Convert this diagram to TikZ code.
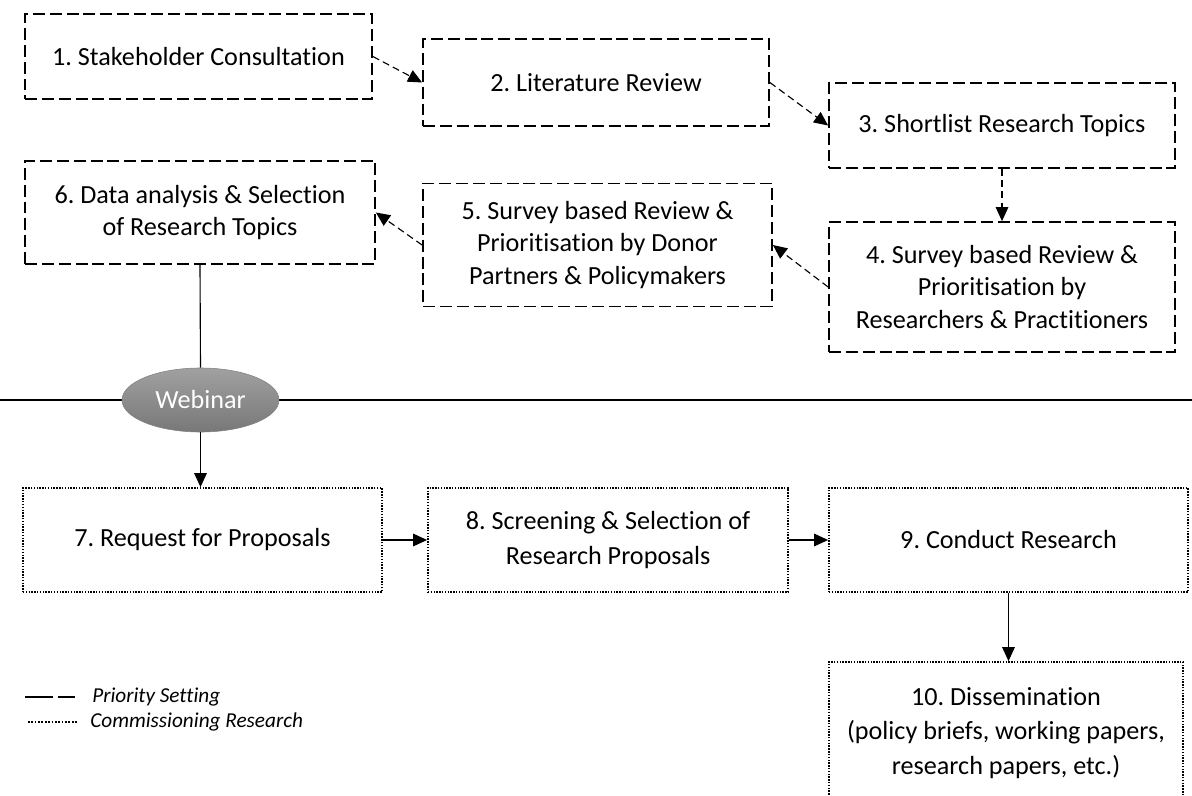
\documentclass[tikz,border=0pt]{standalone}
\usepackage{fontspec}
\setmainfont[Ligatures=NoCommon]{Carlito}
\usetikzlibrary{shapes.geometric, positioning, arrows.meta}
\frenchspacing

\begin{document}
\begin{tikzpicture}[x=0.025cm, y=-0.025cm, >={Triangle[length=10pt, width=9pt]},
    prio/.style={draw, rectangle, dash pattern=on 8.5pt off 3.5pt, line width=1.2pt, align=center, inner sep=0pt, font=\fontsize{18.6}{23.4}\selectfont},
    comm/.style={draw, rectangle, dash pattern=on 1pt off 1pt, line width=1.2pt, align=center, inner sep=0pt, font=\fontsize{18.6}{24.5}\selectfont},
    prioarrow/.style={->, line width=0.8pt, dash pattern=on 5pt off 3pt},
    commarrow/.style={->, line width=0.8pt},
    legend/.style={anchor=west, inner sep=0pt, font=\fontsize{15.1}{17}\selectfont\itshape}]
    \useasboundingbox (0,0) rectangle (1192,796);
    \clip (0,0) rectangle (1192,796);

    % priority setting
    \node[prio, minimum width=8.675cm, minimum height=2.125cm] (consult) at (198.5,56.5) {1. Stakeholder Consultation};
    \node[prio, minimum width=8.65cm, minimum height=2.175cm] (litrev) at (596,82.5) {2. Literature Review};
    \node[prio, minimum width=8.65cm, minimum height=2.125cm] (shortlist) at (1002,125.5) {3. Shortlist Research Topics};
    \node[prio, minimum width=8.65cm, minimum height=3.25cm] (surveyres) at (1002,287) {4. Survey based Review \&\\Prioritisation by\\Researchers \& Practitioners};
    \node[prio, minimum width=8.725cm, minimum height=3.075cm] (surveydon) at (597.5,245) {5. Survey based Review \&\\Prioritisation by Donor\\Partners \& Policymakers};
    \node[prio, minimum width=8.75cm, minimum height=2.575cm] (analysis) at (200,212.5) {6. Data analysis \& Selection\\of Research Topics};

    \path[prioarrow] (consult.east) edge (litrev.west);
    \path[prioarrow] (litrev.east) edge (shortlist.west);
    \path[prioarrow] (shortlist.south) edge (surveyres.north);
    \path[prioarrow] (surveyres.west) edge (surveydon.east);
    \path[prioarrow] (surveydon.west) edge (analysis.east);

    % divider and webinar
    \draw[line width=0.8pt] (0,400) -- (1192,400);
    \node[draw=black!50, line width=0.4pt, ellipse, top color=black!37, bottom color=black!53, text=white, minimum width=3.925cm, minimum height=1.6cm, inner sep=0pt, font=\fontsize{18.6}{20}\selectfont] (webinar) at (200.5,400) {Webinar};
    \draw[line width=0.8pt] (analysis.south) -- (webinar.north);

    % commissioning research
    \node[comm, minimum width=8.975cm, minimum height=2.6cm] (request) at (202.5,540) {7. Request for Proposals};
    \node[comm, minimum width=9cm, minimum height=2.6cm] (screening) at (608,540) {8. Screening \& Selection of\\Research Proposals};
    \node[comm, minimum width=8.975cm, minimum height=2.6cm] (conduct) at (1008.5,540) {9. Conduct Research};
    \node[comm, minimum width=8.85cm, minimum height=3.55cm] (dissem) at (1006,733) {10. Dissemination\\(policy briefs, working papers,\\research papers, etc.)};

    \path[commarrow] (webinar.south) edge (webinar.south |- request.north);
    \path[commarrow] (request.east) edge (screening.west);
    \path[commarrow] (screening.east) edge (conduct.west);
    \path[commarrow] (conduct.south) edge (conduct.south |- dissem.north);

    % legend
    \node[legend] (legprio) at (92,697) {Priority Setting};
    \node[legend] (legcomm) at (90,722) {Commissioning Research};
    \draw[line width=1.4pt, dash pattern=on 20pt off 3.5pt] (legprio.west) ++(-67,0) -- ++(50,0);
    \draw[line width=1.2pt, dash pattern=on 1.2pt off 1.2pt] (legcomm.west) ++(-62,0) -- ++(50,0);
\end{tikzpicture}
\end{document}
